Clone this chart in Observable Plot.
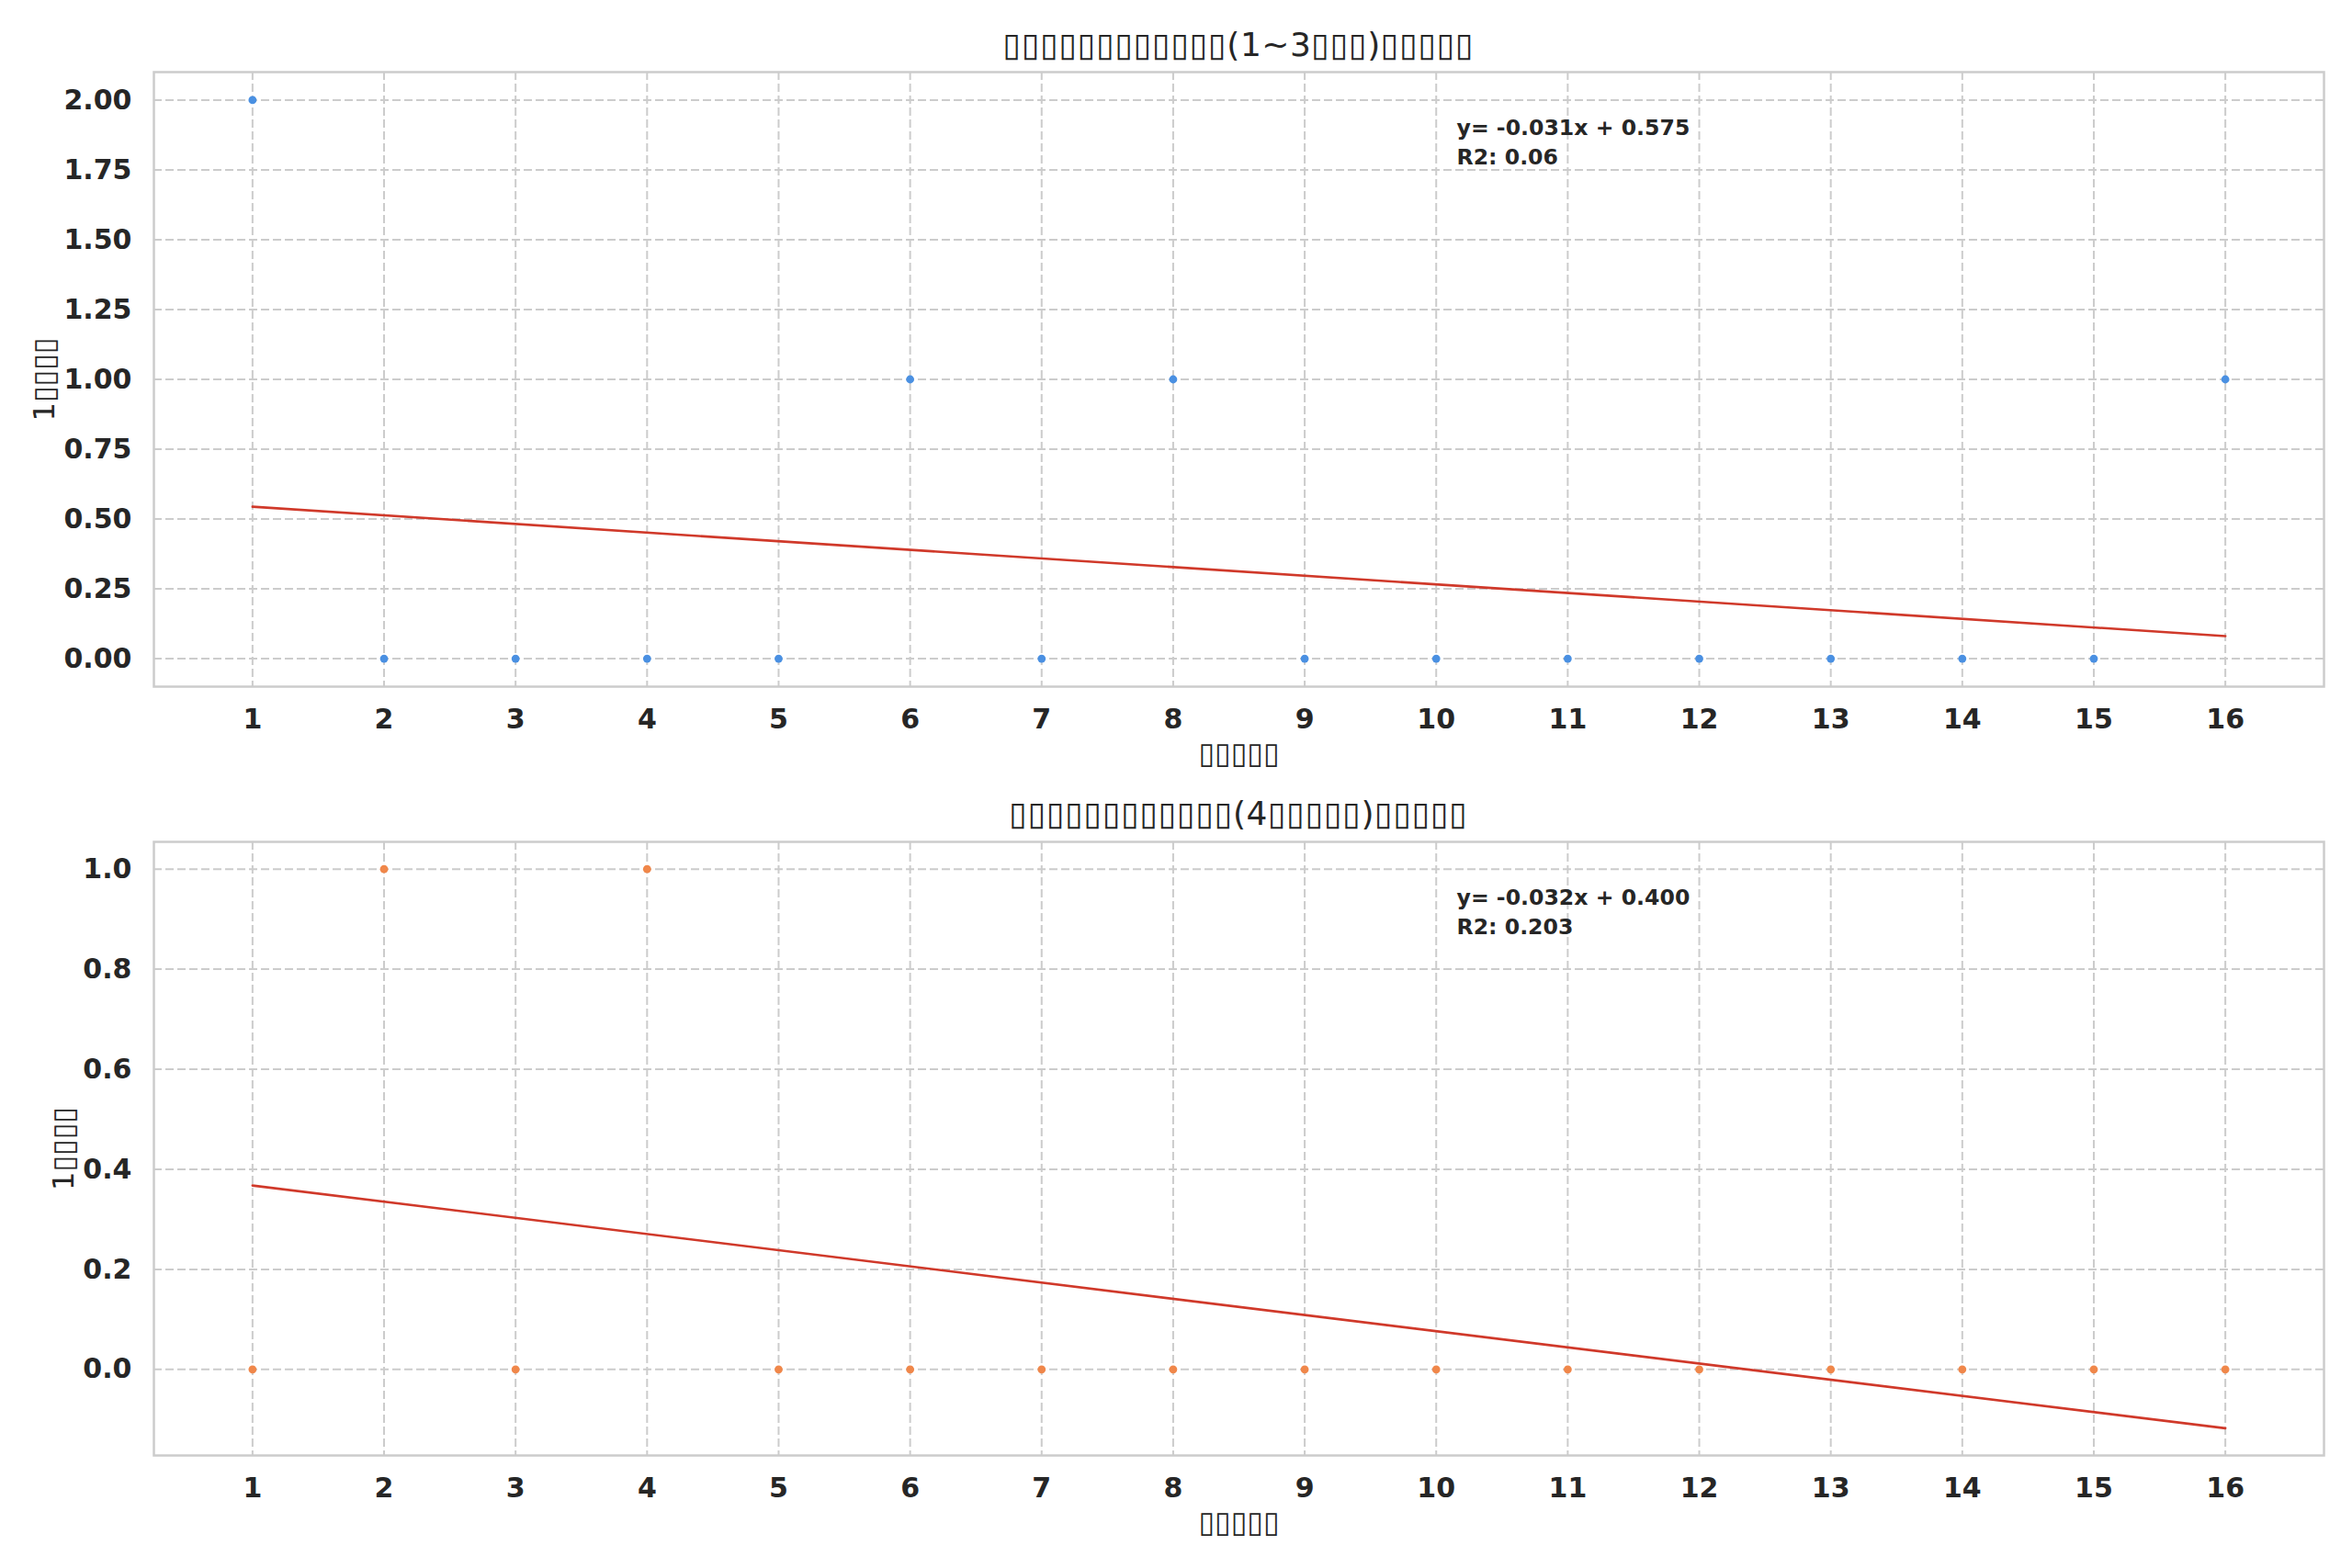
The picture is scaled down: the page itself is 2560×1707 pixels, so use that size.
<!DOCTYPE html>
<html>
<head>
<meta charset="utf-8">
<script src="https://cdn.jsdelivr.net/npm/d3@7"></script>
<script src="https://cdn.jsdelivr.net/npm/@observablehq/plot@0.6"></script>
<style>
  html, body { margin: 0; padding: 0; background: #ffffff; }
  body { width: 2560px; height: 1707px; overflow: hidden; font-family: "DejaVu Sans", sans-serif; color: #262626; }
  .title { width: 2560px; box-sizing: border-box; padding-left: 167px; padding-right: 31px; text-align: center; font-size: 36px; line-height: 40px; letter-spacing: 0.5px; color: #262626; white-space: nowrap; }
  #t1 { height: 74px; padding-top: 29px; }
  #t2 { height: 56px; padding-top: 10px; }
  svg { display: block; }
</style>
</head>
<body>
<div id="t1" class="title"></div>
<div id="c1"></div>
<div id="t2" class="title"></div>
<div id="c2"></div>
<script>
// ---- data ----
const xValues = [1, 2, 3, 4, 5, 6, 7, 8, 9, 10, 11, 12, 13, 14, 15, 16];
const seriesA = [2, 0, 0, 0, 0, 1, 0, 1, 0, 0, 0, 0, 0, 0, 0, 1];
const seriesB = [0, 1, 0, 1, 0, 0, 0, 0, 0, 0, 0, 0, 0, 0, 0, 0];
const titles = [
  "▯▯▯▯▯▯▯▯▯▯▯▯(1~3▯▯▯)▯▯▯▯▯",
  "▯▯▯▯▯▯▯▯▯▯▯▯(4▯▯▯▯▯)▯▯▯▯▯"
];
const xLabel = "▯▯▯▯▯";
const yLabel = "1▯▯▯▯";
const equations = ["y= -0.031x + 0.575", "y= -0.032x + 0.400"];
const r2Labels = ["R2: 0.06", "R2: 0.203"];
const yTicksA = [0, 0.25, 0.5, 0.75, 1.0, 1.25, 1.5, 1.75, 2.0];
const yTicksB = [0, 0.2, 0.4, 0.6, 0.8, 1.0];
const yDomainA = [-0.1, 2.1];
const yDomainB = [-0.172, 1.0545];
const xDomain = [0.25, 16.75];
const colors = ["#4a90e2", "#f0874a"];
const lineColor = "#d0392a";

const dataA = xValues.map((x, i) => ({x, y: seriesA[i]}));
const dataB = xValues.map((x, i) => ({x, y: seriesB[i]}));

document.getElementById("t1").textContent = titles[0];
document.getElementById("t2").textContent = titles[1];

function makeChart(data, cfg) {
  return Plot.plot({
    width: 2560,
    height: cfg.height,
    marginLeft: 167,
    marginRight: 31,
    marginTop: 4,
    marginBottom: cfg.marginBottom,
    style: {fontFamily: "DejaVu Sans, sans-serif", color: "#262626", background: "#ffffff", overflow: "visible"},
    x: {domain: xDomain, ticks: xValues},
    y: {domain: cfg.yDomain, ticks: cfg.yTicks},
    marks: [
      Plot.gridX(xValues, {stroke: "#cccccc", strokeOpacity: 1, strokeWidth: 2, strokeDasharray: "9,4"}),
      Plot.gridY(cfg.yTicks, {stroke: "#cccccc", strokeOpacity: 1, strokeWidth: 2, strokeDasharray: "9,4"}),
      Plot.frame({stroke: "#cccccc", strokeWidth: 2.5}),
      Plot.axisX(xValues, {tickSize: 0, tickPadding: 24, fontSize: 30, fontWeight: "bold", label: null, tickFormat: d3.format("d"), fill: "#262626"}),
      Plot.axisY(cfg.yTicks, {tickSize: 0, tickPadding: 24, fontSize: 30, fontWeight: "bold", label: null, tickFormat: cfg.fmt, fill: "#262626"}),
      Plot.linearRegressionY(data, {x: "x", y: "y", ci: 0, stroke: lineColor, strokeWidth: 2.6}),
      Plot.dot(data, {x: "x", y: "y", r: 4.4, fill: cfg.color, stroke: null}),
      Plot.text([xLabel], {text: d => d, frameAnchor: "bottom", textAnchor: "middle", lineAnchor: "middle", dy: 73, fontSize: 32, fill: "#262626"}),
      Plot.text([yLabel], {text: d => d, frameAnchor: "left", textAnchor: "middle", lineAnchor: "middle", dx: cfg.yLabelDx, rotate: -90, fontSize: 32, fill: "#262626"}),
      Plot.text([cfg.eq + "\n" + cfg.r2], {text: d => d, frameAnchor: "top-left", textAnchor: "start", lineAnchor: "top", dx: 1418, dy: 45, fontSize: 23.6, fontWeight: "bold", lineHeight: 1.38, fill: "#262626"})
    ]
  });
}

document.getElementById("c1").appendChild(makeChart(dataA, {
  height: 782, marginBottom: 109, yDomain: yDomainA, yTicks: yTicksA, fmt: d3.format(".2f"),
  color: colors[0], eq: equations[0], r2: r2Labels[0], yLabelDx: -119
}));
document.getElementById("c2").appendChild(makeChart(dataB, {
  height: 795, marginBottom: 123, yDomain: yDomainB, yTicks: yTicksB, fmt: d3.format(".1f"),
  color: colors[1], eq: equations[1], r2: r2Labels[1], yLabelDx: -98
}));
</script>
</body>
</html>
